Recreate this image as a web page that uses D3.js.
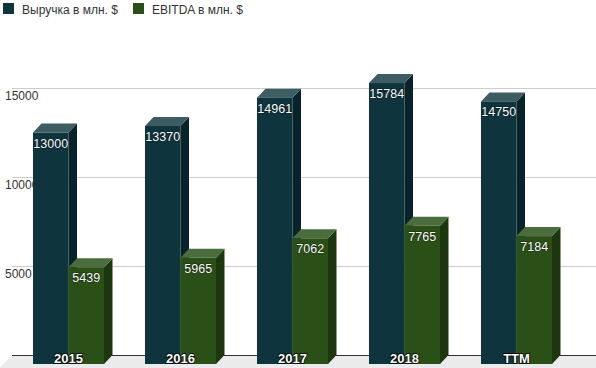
<!DOCTYPE html>
<html>
<head>
<meta charset="utf-8">
<script src="https://cdn.jsdelivr.net/npm/d3@7"></script>
<style>
  body { margin: 0; background: #fff; }
  text { font-family: Arial, "Liberation Sans", sans-serif; }
</style>
</head>
<body>
<div id="chart"></div>
<script>
// data
var categories = ["2015", "2016", "2017", "2018", "TTM"];
var seriesNames = ["Выручка в млн. $", "EBITDA в млн. $"];
var revenue = [13000, 13370, 14961, 15784, 14750];
var ebitda = [5439, 5965, 7062, 7765, 7184];
var yTicks = [5000, 10000, 15000];

var svgWidth = 596;
var svgHeight = 368;

// 3d depth offset
var dx = 8.5, dy = 9;

var colors = [
  { front: "#0e343e", top: "#3d5d62", side: "#09232a" },
  { front: "#2b5017", top: "#4b6c3c", side: "#1c360e" }
];

var svg = d3.select("#chart")
  .append("svg")
  .attr("width", svgWidth)
  .attr("height", svgHeight);

// scales (front plane)
var x0 = d3.scaleBand()
  .domain(categories)
  .range([12.5, 572.5])
  .paddingInner(0.366)
  .paddingOuter(0.183);

var x1 = d3.scaleBand()
  .domain(seriesNames)
  .range([0, x0.bandwidth()]);

var y = d3.scaleLinear()
  .domain([0, 15000])
  .range([364, 97]);

// floor
var backY = y(0) - dy;
svg.append("polygon")
  .attr("points", [[12, backY], [596, backY], [596, 372], [12 - (372 - backY) * dx / dy, 372]].join(" "))
  .attr("fill", "#ebebeb");

// gridlines (back plane)
svg.selectAll(".grid")
  .data(yTicks)
  .enter()
  .append("line")
  .attr("x1", 12)
  .attr("x2", 596)
  .attr("y1", d => Math.round(y(d) - dy) + 0.5)
  .attr("y2", d => Math.round(y(d) - dy) + 0.5)
  .attr("stroke", "#cccccc")
  .attr("stroke-width", 1);

svg.append("line")
  .attr("x1", 12)
  .attr("x2", 596)
  .attr("y1", Math.round(backY) + 0.5)
  .attr("y2", Math.round(backY) + 0.5)
  .attr("stroke", "#333")
  .attr("stroke-width", 1);

// y labels
svg.selectAll(".ylab")
  .data(yTicks)
  .enter()
  .append("text")
  .attr("x", 5)
  .attr("y", d => y(d) - dy + 12)
  .attr("font-size", "12px")
  .attr("fill", "#333")
  .text(d => d);

// bars
var rows = [];
categories.forEach(function(c, i) {
  rows.push({ cat: c, s: 0, value: revenue[i] });
  rows.push({ cat: c, s: 1, value: ebitda[i] });
});

var bars = svg.selectAll(".bar")
  .data(rows)
  .enter()
  .append("g")
  .attr("class", "bar");

bars.each(function(d) {
  var g = d3.select(this);
  var x = x0(d.cat) + x1(seriesNames[d.s]);
  var w = x1.bandwidth();
  var top = y(d.value);
  var bottom = y(0);
  var c = colors[d.s];
  // side
  g.append("polygon")
    .attr("points", [[x + w, top], [x + w + dx, top - dy], [x + w + dx, bottom - dy], [x + w, bottom]].join(" "))
    .attr("fill", c.side);
  // top
  g.append("polygon")
    .attr("points", [[x, top], [x + dx, top - dy], [x + w + dx, top - dy], [x + w, top]].join(" "))
    .attr("fill", c.top);
  // front
  g.append("rect")
    .attr("x", x)
    .attr("y", top)
    .attr("width", w)
    .attr("height", bottom - top)
    .attr("fill", c.front);
});

// value labels
svg.selectAll(".vlab")
  .data(rows)
  .enter()
  .append("text")
  .attr("x", d => x0(d.cat) + x1(seriesNames[d.s]) + x1.bandwidth() / 2)
  .attr("y", d => y(d.value) + 15)
  .attr("text-anchor", "middle")
  .attr("font-size", "12.5px")
  .attr("fill", "#fff")
  .attr("stroke", "rgba(0,0,0,0.5)")
  .attr("stroke-width", 1.2)
  .attr("paint-order", "stroke")
  .text(d => d.value);

// category labels
svg.selectAll(".xlab")
  .data(categories)
  .enter()
  .append("text")
  .attr("x", d => x0(d) + x0.bandwidth() / 2)
  .attr("y", 363)
  .attr("text-anchor", "middle")
  .attr("font-size", "13px")
  .attr("font-weight", "bold")
  .attr("fill", "#fff")
  .attr("stroke", "#000")
  .attr("stroke-width", 1.6)
  .attr("paint-order", "stroke")
  .text(d => d);

// legend
var legend = svg.selectAll(".legend")
  .data(seriesNames)
  .enter()
  .append("g")
  .attr("transform", (d, i) => `translate(${i === 0 ? 3 : 133}, 3)`);

legend.append("rect")
  .attr("width", 11)
  .attr("height", 11)
  .attr("fill", (d, i) => colors[i].front);

legend.append("text")
  .attr("x", 19)
  .attr("y", 10.5)
  .attr("font-size", "12px")
  .attr("fill", "#333")
  .text(d => d);
</script>
</body>
</html>
